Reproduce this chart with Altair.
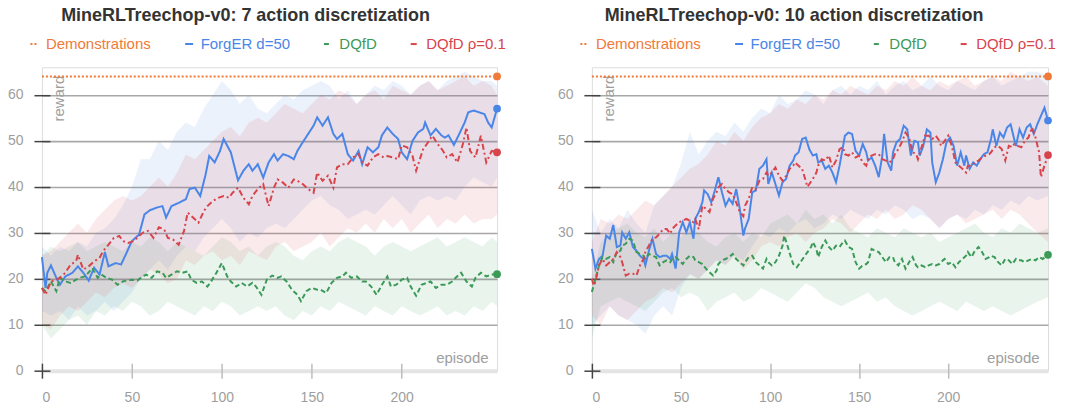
import altair as alt
import pandas as pd

FONT = "Liberation Sans"
SERIES = ["Demonstrations", "ForgER d=50", "DQfD", "DQfD ρ=0.1"]
COLORS = ["#EF7A3A", "#4A86E8", "#3B9A57", "#D9434A"]
DASHES = [[2, 2], [1, 0], [5, 3], [6, 3, 2, 3]]
DEMO_REWARD = 64

TITLE_L = "MineRLTreechop-v0: 7 action discretization"
TITLE_R = "MineRLTreechop-v0: 10 action discretization"
X_TICKS = [0, 50, 100, 150, 200]
Y_TICKS = [0, 10, 20, 30, 40, 50, 60]
X_END_L = 253
X_END_R = 256
Y_MAX = 66

# ---------------- left panel: 7 action discretization ----------------
L_FORGER_EP = [0, 2, 3, 5, 8, 10, 13, 17, 20, 23, 26, 29, 32, 35, 37, 41, 44, 47, 50, 54, 57, 60, 64, 67, 69, 72, 76, 80, 82, 85, 88, 91, 93, 96, 99, 101, 105, 109, 112, 115, 117, 120, 123, 126, 129, 131, 134, 137, 140, 142, 145, 148, 151, 153, 156, 159, 162, 164, 167, 170, 173, 176, 178, 181, 184, 187, 189, 192, 195, 198, 200, 203, 206, 209, 212, 213, 216, 219, 222, 224, 226, 229, 232, 235, 237, 240, 243, 246, 248, 250, 253]
L_FORGER = [24.7, 18, 21.3, 22.9, 20.2, 18.7, 20.5, 21.3, 22.7, 21.3, 19.6, 22.4, 20.9, 25.8, 22.7, 23.4, 23.1, 25.6, 28.2, 29.6, 34, 34.9, 35.5, 35.8, 33.3, 35.8, 36.5, 37.3, 39.5, 39.8, 38, 42.7, 46.7, 45.3, 47.8, 50.4, 47.5, 41.4, 43.5, 44.9, 43.5, 44.9, 42, 45.3, 47.1, 45.7, 47.1, 46.7, 46, 47.8, 49.7, 51.5, 53.3, 55.1, 53.3, 55.1, 51.5, 50.4, 51.5, 47.1, 45.7, 47.8, 44.9, 48.6, 47.5, 48.6, 51.2, 52.9, 51.5, 50.4, 47.5, 46, 50, 51.8, 52.6, 54, 51.2, 52.6, 51.2, 50.7, 51.2, 49.1, 51.5, 54, 56.2, 56.6, 56.2, 55.8, 54, 52.9, 57]

L_DQFD_RHO_EP = [0, 2, 5, 8, 10, 13, 16, 19, 20, 23, 26, 29, 32, 34, 37, 40, 43, 45, 48, 51, 54, 56, 59, 62, 65, 68, 70, 73, 76, 79, 81, 84, 87, 90, 92, 95, 98, 101, 104, 106, 109, 112, 115, 117, 120, 123, 126, 129, 131, 134, 137, 140, 142, 145, 148, 151, 153, 156, 159, 162, 164, 167, 170, 173, 176, 178, 181, 184, 187, 190, 192, 195, 198, 200, 203, 206, 208, 212, 214, 217, 220, 223, 225, 228, 231, 234, 236, 238, 241, 244, 247, 250, 253]
L_DQFD_RHO = [18, 16.5, 19.4, 19.8, 20.2, 21.3, 23.1, 23.8, 25.2, 22, 22.7, 23.8, 24.5, 26, 27.4, 28.9, 29.3, 28.2, 27.8, 28.2, 29.3, 30, 30.4, 28.9, 31.2, 30.7, 28.9, 28.5, 27.4, 30.4, 34.4, 33.3, 32.2, 34.7, 35.8, 36.9, 37.6, 38, 37.6, 38.7, 39.8, 37.6, 36.2, 38, 39.5, 40.6, 35.8, 39.8, 41.6, 40.9, 39.8, 41.6, 41.3, 40.6, 39.5, 38.7, 43.1, 41.3, 42.4, 39.8, 44.2, 44.9, 44.9, 46.4, 47.1, 45.3, 44.6, 46.4, 47.1, 46.4, 46.7, 46.4, 46, 49, 48.6, 46.7, 43.5, 48.3, 49.3, 51.1, 49.3, 47.8, 46.4, 47.1, 45.3, 49.3, 52.9, 47.8, 46.4, 51.1, 45.3, 47.8, 47.5]

L_DQFD_EP = [0, 2, 5, 8, 10, 13, 16, 19, 21, 24, 28, 31, 33, 36, 39, 42, 45, 47, 50, 53, 56, 58, 61, 64, 67, 69, 72, 75, 78, 81, 83, 86, 89, 92, 94, 97, 100, 103, 105, 108, 111, 114, 117, 119, 122, 125, 128, 131, 133, 136, 139, 142, 144, 147, 150, 153, 155, 158, 161, 164, 167, 169, 172, 175, 178, 180, 183, 186, 189, 192, 194, 197, 200, 203, 205, 208, 211, 214, 216, 219, 222, 225, 228, 230, 233, 236, 239, 241, 244, 247, 250, 253]
L_DQFD = [18, 17.3, 19.4, 17.3, 20.2, 19.4, 19.1, 19.8, 20.2, 20.5, 22.3, 20.2, 20.9, 20.2, 19.8, 18.7, 19.4, 19.6, 19.8, 19.6, 20.5, 20.9, 20.2, 21.6, 21.3, 20.2, 20.9, 21.6, 21.3, 21.6, 19.8, 19.1, 19.4, 18.3, 19.4, 21.3, 23.4, 20.5, 19.4, 18.3, 19.1, 18.3, 19.1, 18.3, 16.5, 19.8, 20.7, 20.2, 20.5, 19.4, 17.6, 16.5, 15.1, 17.3, 18, 17.6, 17.6, 16.9, 19.1, 20.2, 20.5, 21.3, 20.2, 20.5, 19.4, 19.4, 18.3, 16.5, 18.7, 20.5, 18.3, 18.7, 19.8, 20.2, 18.3, 16.3, 18.7, 19.1, 19.4, 18, 18.7, 18.7, 19.4, 20.2, 21.3, 19.4, 18.3, 20.2, 21.3, 20.5, 20.9, 21]

L_BAND_EP = list(range(0, 251, 5)) + [253]
L_FORGER_HI = [27, 25, 27, 26, 28, 27, 30, 31, 33, 36, 40, 46, 46, 50, 48, 52, 54, 53, 57, 60, 63, 61, 58, 60, 57, 56, 58, 60, 59, 61, 62, 63, 62, 59, 61, 58, 60, 62, 61, 63, 62, 60, 62, 63, 61, 63, 64, 65, 64, 63, 63, 62]
L_FORGER_LO = [13, 12, 13, 11, 14, 12, 13, 15, 13, 15, 17, 20, 22, 24, 22, 25, 27, 26, 29, 31, 33, 31, 28, 30, 29, 31, 32, 31, 33, 35, 37, 38, 36, 35, 33, 34, 35, 34, 36, 38, 36, 34, 37, 38, 37, 38, 37, 40, 42, 41, 40, 42]
L_DQFD_RHO_HI = [25, 26, 28, 30, 32, 30, 33, 35, 37, 38, 37, 38, 40, 42, 40, 43, 47, 46, 48, 50, 52, 53, 51, 54, 55, 54, 56, 58, 57, 56, 58, 60, 59, 61, 60, 58, 60, 61, 59, 62, 61, 60, 62, 63, 61, 62, 63, 64, 62, 63, 62, 60]
L_DQFD_RHO_LO = [10, 9, 12, 14, 13, 15, 17, 16, 18, 19, 18, 20, 22, 21, 19, 20, 24, 23, 25, 26, 24, 25, 23, 26, 25, 24, 27, 28, 26, 27, 28, 30, 27, 29, 31, 30, 32, 30, 33, 31, 33, 30, 32, 34, 31, 33, 32, 34, 32, 33, 33, 34]
L_DQFD_HI = [25, 27, 26, 27, 28, 26, 27, 28, 27, 26, 28, 27, 29, 28, 26, 28, 27, 26, 25, 27, 29, 28, 26, 27, 25, 27, 28, 27, 25, 24, 26, 27, 26, 28, 29, 28, 27, 25, 27, 28, 27, 26, 27, 28, 29, 27, 28, 29, 28, 27, 29, 28]
L_DQFD_LO = [10, 7, 9, 11, 12, 10, 13, 12, 14, 13, 15, 14, 12, 13, 15, 14, 13, 12, 14, 13, 15, 14, 12, 13, 14, 13, 14, 12, 11, 13, 12, 14, 13, 15, 14, 13, 12, 14, 13, 12, 14, 13, 12, 13, 14, 12, 13, 12, 14, 13, 15, 14]

# ---------------- right panel: 10 action discretization ----------------
R_FORGER_EP = [0, 2, 4, 6, 8, 10, 12, 14, 16, 17, 19, 21, 23, 25, 27, 29, 30, 32, 34, 36, 38, 40, 42, 44, 45, 47, 49, 51, 53, 55, 57, 58, 60, 62, 63, 65, 67, 69, 71, 73, 75, 77, 79, 81, 83, 85, 86, 88, 90, 92, 94, 96, 98, 99, 101, 103, 105, 107, 109, 111, 113, 114, 116, 118, 120, 122, 124, 126, 127, 129, 131, 133, 135, 137, 139, 141, 142, 144, 146, 148, 150, 152, 154, 155, 157, 159, 161, 163, 164, 166, 168, 169, 171, 173, 175, 177, 179, 181, 183, 184, 186, 188, 190, 191, 193, 195, 197, 199, 201, 203, 205, 207, 209, 210, 212, 214, 216, 218, 220, 222, 224, 225, 227, 229, 231, 233, 235, 237, 238, 240, 242, 244, 246, 248, 250, 252, 254, 256]
R_FORGER = [26.5, 22.2, 24.3, 25, 29.4, 28.7, 31.7, 26.9, 27.2, 30.1, 28.7, 30.1, 26.9, 26.1, 25, 24.3, 22.9, 26.1, 28.7, 25.4, 24.7, 25, 25, 24.3, 25.4, 22.2, 30.1, 32.3, 30.1, 32.3, 28.7, 33, 34.5, 36.6, 39.2, 38.4, 36.6, 39.2, 42.1, 38.8, 35.9, 37.4, 36.3, 39.5, 35.2, 29.4, 31, 33, 38.8, 39.2, 43.9, 44.6, 46, 40.6, 43.1, 40.6, 38.1, 41, 41.7, 44.6, 45.7, 46.8, 47.5, 50.4, 50.7, 48.2, 46.8, 47.1, 45.3, 45.7, 43.9, 44.6, 43.1, 41, 44.6, 48.9, 51.1, 51.8, 51.5, 47.8, 46.8, 49.3, 47.5, 45.7, 46.4, 44.6, 42.1, 46.8, 51.5, 45.3, 43.5, 47.5, 49.7, 50.4, 53.3, 52.5, 46.8, 50, 49.7, 46.8, 48.9, 52.5, 51.8, 45.3, 41, 43.1, 46, 49.7, 50.7, 48.9, 44.6, 47.5, 44.6, 46.8, 43.9, 45.3, 44.6, 46, 47.1, 47.5, 50.4, 52.5, 48.9, 51.8, 50.7, 52.9, 53.6, 50.4, 48.9, 52.5, 50.7, 52.9, 53.6, 51.5, 53.6, 55.4, 57.2, 54.4]

R_DQFD_RHO_EP = [0, 1, 2, 4, 6, 8, 10, 12, 14, 16, 17, 19, 21, 23, 25, 27, 29, 30, 32, 34, 36, 38, 40, 42, 44, 45, 47, 49, 51, 53, 55, 57, 58, 60, 62, 64, 66, 68, 70, 71, 73, 75, 77, 79, 81, 83, 85, 86, 88, 90, 92, 94, 96, 98, 99, 101, 103, 105, 107, 109, 111, 113, 114, 116, 118, 121, 124, 126, 127, 129, 131, 133, 135, 137, 139, 141, 142, 144, 146, 148, 150, 152, 154, 155, 157, 159, 161, 163, 165, 167, 169, 170, 172, 174, 176, 178, 180, 182, 183, 185, 187, 189, 191, 193, 195, 196, 198, 200, 202, 204, 206, 208, 210, 211, 213, 215, 217, 219, 221, 223, 224, 226, 228, 230, 232, 234, 236, 237, 239, 241, 243, 245, 247, 249, 251, 252, 254, 256]
R_DQFD_RHO = [20, 18.5, 19.3, 22.9, 24.3, 22.9, 23.6, 24.3, 25.8, 24.7, 23.6, 20.7, 21.1, 21.1, 20.7, 22.9, 24.3, 25.8, 27.2, 28.7, 29, 29.8, 30.8, 30.8, 29.8, 30.8, 31.6, 32.3, 32.6, 33, 32.6, 32.3, 33, 30.8, 35.9, 35.2, 34.5, 37.4, 38.8, 39.9, 40.6, 39.5, 38.8, 38.4, 36.6, 34.5, 33.6, 35.9, 37.4, 39.9, 39.5, 41.3, 41.7, 43.1, 42.4, 43.1, 44.2, 42.4, 41.3, 42.4, 43.9, 44.6, 45.3, 44.6, 43.9, 40, 41.7, 43.1, 44.6, 46, 45.7, 46.8, 44.2, 45.7, 48.2, 48.6, 47.1, 46.8, 47.5, 46.4, 46.8, 45.3, 44.6, 46, 46.8, 47.1, 47.1, 46, 45.7, 45.3, 46, 47.1, 48.2, 49.7, 51.8, 50.7, 47.5, 47.1, 46, 48.6, 51.1, 51.1, 50.4, 51.1, 50, 48.9, 50, 51.1, 48.9, 45.3, 44.6, 43.9, 43.1, 44.6, 44.6, 45.3, 45.7, 46.4, 46.8, 47.1, 47.5, 48.6, 48.9, 48.2, 45.7, 48.9, 48.6, 49.3, 48.9, 48.6, 50, 50.7, 52.9, 50.7, 47.5, 42.1, 44.6, 46.9]

R_DQFD_EP = [0, 2, 4, 6, 8, 10, 12, 14, 16, 17, 19, 21, 23, 25, 27, 29, 30, 32, 34, 36, 38, 40, 42, 44, 45, 47, 49, 51, 53, 55, 57, 58, 60, 62, 64, 66, 68, 70, 71, 73, 75, 77, 79, 81, 83, 85, 86, 88, 90, 92, 94, 96, 98, 99, 101, 103, 105, 107, 108, 110, 112, 113, 115, 117, 119, 121, 123, 124, 126, 127, 129, 131, 133, 135, 137, 139, 141, 142, 144, 146, 148, 150, 152, 154, 155, 157, 159, 161, 163, 165, 167, 169, 170, 172, 174, 176, 178, 180, 182, 183, 185, 187, 189, 191, 193, 195, 197, 198, 200, 202, 204, 206, 208, 210, 211, 213, 215, 217, 219, 221, 223, 224, 226, 228, 230, 232, 234, 236, 238, 239, 241, 243, 245, 247, 249, 251, 253, 256]
R_DQFD = [17.1, 20, 22.9, 24.7, 24.3, 24.7, 23.6, 25.8, 26.1, 27.2, 27.6, 28.7, 28.3, 25.8, 25.4, 25, 24.3, 25.4, 25, 24.7, 22.9, 23.6, 24, 23.6, 24.3, 24.7, 24, 23.2, 24.3, 25, 24.7, 24, 23.6, 23.2, 22.2, 21.4, 20.7, 21.8, 23.2, 24, 24.3, 24.7, 25.4, 24.3, 23.6, 22.9, 23.6, 24.7, 25, 23.6, 22.9, 22.2, 24.3, 23.6, 22.9, 23.6, 25, 27.2, 29.4, 26.9, 24.3, 23.2, 22.5, 23.6, 24.7, 25.8, 26.9, 28, 26.5, 24.7, 26.9, 28.3, 26.9, 26.1, 27.2, 26.9, 28, 28.3, 26.9, 26.5, 23.6, 22.2, 22.9, 23.2, 23.6, 26.5, 26.1, 25.8, 24.7, 23.6, 24.7, 24.7, 23.6, 22.9, 24.3, 22.2, 23.6, 24.7, 22.9, 22.5, 22.9, 22.5, 22.9, 23.2, 22.9, 23.2, 24, 24.3, 23.2, 23.6, 22.5, 23.6, 24.3, 25, 25.8, 24.7, 26.1, 26.9, 25.8, 24.3, 24.7, 25, 24.7, 23.6, 22.9, 24.3, 24, 23.2, 24.3, 24, 24, 23.6, 24, 24.3, 24, 24.7, 24.3, 25.2]

R_BAND_EP = list(range(0, 251, 5)) + [256]
R_FORGER_HI = [35, 30, 33, 31, 35, 32, 30, 36, 38, 40, 45, 52, 47, 50, 52, 51, 54, 52, 55, 57, 56, 60, 58, 59, 61, 60, 58, 61, 62, 60, 62, 61, 63, 60, 62, 63, 61, 62, 64, 62, 61, 63, 62, 61, 63, 64, 62, 63, 64, 65, 65, 64]
R_FORGER_LO = [10, 12, 14, 12, 11, 10, 8, 12, 14, 12, 18, 21, 20, 22, 24, 23, 25, 24, 27, 30, 29, 31, 30, 32, 33, 31, 32, 34, 33, 35, 34, 33, 35, 34, 36, 35, 33, 34, 33, 31, 33, 34, 33, 35, 34, 36, 35, 37, 36, 38, 37, 38]
R_DQFD_RHO_HI = [28, 33, 32, 34, 33, 35, 37, 36, 38, 40, 42, 44, 45, 47, 50, 49, 52, 50, 53, 55, 56, 58, 57, 59, 58, 60, 59, 61, 60, 62, 61, 60, 62, 61, 63, 62, 64, 62, 61, 63, 62, 63, 64, 62, 63, 64, 63, 65, 64, 63, 64, 62]
R_DQFD_RHO_LO = [12, 10, 14, 12, 11, 13, 15, 16, 18, 17, 19, 21, 20, 22, 24, 23, 25, 22, 24, 27, 28, 27, 29, 30, 28, 30, 31, 33, 32, 30, 32, 34, 33, 35, 33, 34, 36, 35, 33, 31, 33, 34, 32, 33, 34, 35, 33, 35, 34, 32, 30, 28]
R_DQFD_HI = [20, 28, 30, 31, 32, 30, 29, 31, 28, 30, 29, 31, 30, 28, 27, 29, 30, 28, 30, 29, 32, 33, 34, 32, 35, 33, 34, 32, 34, 31, 30, 29, 31, 30, 29, 31, 30, 29, 30, 28, 29, 30, 31, 32, 30, 29, 31, 30, 32, 31, 30, 31]
R_DQFD_LO = [7, 14, 15, 16, 15, 14, 13, 15, 17, 18, 16, 17, 16, 13, 15, 16, 17, 15, 16, 18, 17, 16, 15, 17, 19, 18, 16, 15, 14, 15, 16, 17, 15, 16, 14, 13, 12, 13, 14, 15, 14, 13, 15, 14, 13, 14, 13, 12, 13, 14, 15, 16]


def lines_df(xend, forger_ep, forger, rho_ep, rho, dqfd_ep, dqfd):
    rows = [(0, DEMO_REWARD, SERIES[0]), (xend, DEMO_REWARD, SERIES[0])]
    rows += [(e, v, SERIES[1]) for e, v in zip(forger_ep, forger)]
    rows += [(e, v, SERIES[2]) for e, v in zip(dqfd_ep, dqfd)]
    rows += [(e, v, SERIES[3]) for e, v in zip(rho_ep, rho)]
    return pd.DataFrame(rows, columns=["episode", "reward", "series"])


def bands_df(ep, lo, hi):
    return pd.DataFrame({"episode": ep, "lo": lo, "hi": hi})


LABEL_EXPR = ("datum.value == '%s' ? '%s' : datum.value == '%s' ? '%s' : "
              "datum.value == '%s' ? '%s' : '%s'") % (
    SERIES[0], COLORS[0], SERIES[1], COLORS[1], SERIES[2], COLORS[2], COLORS[3])


def panel(lines, band_ep, bands, xend, width, title, dx):
    xs = alt.Scale(domain=[0, xend], nice=False, zero=False)
    ys = alt.Scale(domain=[0, Y_MAX], nice=False)
    xaxis = alt.Axis(values=X_TICKS, grid=False, domain=False, tickSize=15, offset=-7.5,
                     tickColor={"condition": {"test": "datum.value === 0", "value": "#444444"}, "value": "#bdbdbd"},
                     tickWidth=1.5, labelPadding=12,
                     labelColor="#9e9e9e", labelFontSize=14, labelFont=FONT,
                     title="episode", titleFont=FONT, titleFontSize=15, titleFontWeight="normal",
                     titleColor="#9e9e9e", titleAlign="right", titleBaseline="alphabetic",
                     titleX=width - 9, titleY=-1, titleAnchor="end")
    yaxis = alt.Axis(values=Y_TICKS, grid=True,
                     gridColor={"condition": {"test": "datum.value === 0", "value": "#e4e4e4"}, "value": "#a8a8a8"},
                     gridWidth={"condition": {"test": "datum.value === 0", "value": 4}, "value": 1.6},
                     domain=False, tickSize=16, offset=-8, tickColor="#444444", tickWidth=1.5,
                     labelPadding=11, labelColor="#9e9e9e", labelFontSize=14, labelFont=FONT,
                     title="reward", titleFont=FONT, titleFontSize=15, titleFontWeight="normal",
                     titleColor="#9e9e9e", titleAngle=270, titleAlign="right",
                     titleBaseline="alphabetic", titleX=14, titleY=8)
    X = alt.X("episode:Q", scale=xs, axis=xaxis)
    leg = alt.Legend(title=None, orient="none", legendX=-15, legendY=-31, direction="horizontal",
                     symbolType="stroke", symbolSize=64, symbolStrokeWidth=2,
                     labelFontSize=15, labelFont=FONT, labelColor={"expr": LABEL_EXPR},
                     labelOffset=4, columnPadding=29)

    layers = []
    for (lo, hi), col in zip(bands, COLORS[1:]):
        layers.append(alt.Chart(bands_df(band_ep, lo, hi)).mark_area(opacity=0.11, color=col).encode(
            x=X, y=alt.Y("lo:Q", scale=ys, axis=yaxis), y2="hi:Q"))
    layers.append(alt.Chart(lines).mark_line(strokeWidth=2).encode(
        x=X,
        y=alt.Y("reward:Q", scale=ys, axis=yaxis),
        color=alt.Color("series:N", scale=alt.Scale(domain=SERIES, range=COLORS), legend=leg),
        strokeDash=alt.StrokeDash("series:N", scale=alt.Scale(domain=SERIES, range=DASHES), legend=leg),
    ))
    for name, col in zip(SERIES, COLORS):
        layers.append(alt.Chart(lines).transform_filter(alt.datum.series == name).transform_window(
            rank="rank()", sort=[alt.SortField("episode", order="descending")]
        ).transform_filter("datum.rank == 1").mark_circle(size=60, opacity=1, color=col).encode(
            x=X, y=alt.Y("reward:Q", scale=ys, axis=yaxis)))
    return alt.layer(*layers).properties(
        width=width, height=304,
        title=alt.TitleParams(title, anchor="middle", frame="group", dx=dx, font=FONT,
                              fontSize=18, fontWeight="bold", color="#333333",
                              baseline="alphabetic", offset=-3),
    )


left = panel(
    lines_df(X_END_L, L_FORGER_EP, L_FORGER, L_DQFD_RHO_EP, L_DQFD_RHO, L_DQFD_EP, L_DQFD),
    L_BAND_EP,
    [(L_FORGER_LO, L_FORGER_HI), (L_DQFD_LO, L_DQFD_HI), (L_DQFD_RHO_LO, L_DQFD_RHO_HI)],
    X_END_L, 456, TITLE_L, -24)
right = panel(
    lines_df(X_END_R, R_FORGER_EP, R_FORGER, R_DQFD_RHO_EP, R_DQFD_RHO, R_DQFD_EP, R_DQFD),
    R_BAND_EP,
    [(R_FORGER_LO, R_FORGER_HI), (R_DQFD_LO, R_DQFD_HI), (R_DQFD_RHO_LO, R_DQFD_RHO_HI)],
    X_END_R, 457, TITLE_R, -26)

chart = alt.hconcat(left, right, spacing=49).resolve_scale(
    x="independent", y="independent", color="independent", strokeDash="independent"
).resolve_legend(color="independent", strokeDash="independent").properties(
    padding={"left": -2, "top": -2, "right": 0, "bottom": 0}
).configure_view(stroke=None).configure(font=FONT)

chart.save("out.html", embed_options={"renderer": "svg", "actions": False})
